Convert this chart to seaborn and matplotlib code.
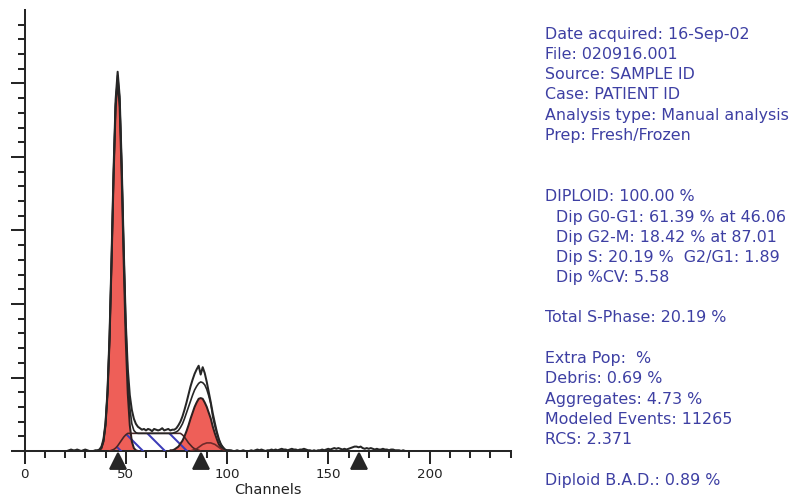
import numpy as np
import pandas as pd
import matplotlib
matplotlib.use("Agg")
import matplotlib.pyplot as plt
import matplotlib.transforms as mtransforms
import seaborn as sns

# ---- DNA histogram (counts per channel, first channel = 20) ----
hist_start = 20
hist_counts = [
    0, 0, 1, 2, 1, 1, 2, 1, 0, 1, 2, 1, 0, 0, 0, 1, 1,                 # 20-36
    2, 6, 16, 38, 82, 158, 265, 384, 478, 516, 482, 390, 276, 176,       # 37-50
    112, 76, 56, 44, 37, 33,                                             # 51-56
    31, 29, 30, 28, 30, 29, 27, 30, 29, 28, 29, 31, 28, 29, 30, 28, 29,  # 57-73
    29, 31, 35, 40, 47, 56, 66, 77, 88, 97, 105, 111, 116, 104, 114,     # 74-88
    106, 94, 80, 66, 51, 38, 26, 16, 9, 5, 2, 1,                         # 89-100
    1, 1, 0, 0, 1, 0, 0, 1, 0, 0,
    0, 1, 0, 1, 2, 1, 2, 1, 0, 1,
    1, 2, 1, 2, 1, 2, 3, 2, 2, 1,
    2, 3, 2, 2, 1, 2, 2, 3, 2, 1,
    1, 0, 1, 0, 1, 1, 2, 1, 2, 3,
    2, 3, 4, 3, 4, 3, 2, 3, 2, 3,
    4, 5, 6, 6, 5, 6, 4, 3, 4, 3,
    4, 3, 2, 3, 2, 2, 3, 2, 2, 1,
    2, 2, 1, 1, 1, 0, 1, 0, 0, 0,                                        # 181-190
]

# ---- model composite (first channel = 36) ----
fit_start = 36
fit_counts = [
    0, 1, 4, 13, 35, 79, 152, 259, 376, 472, 511, 479, 389, 276, 173,   # 36-50
    102, 59, 37, 28, 25, 24,                                            # 51-56
    24, 24, 24, 24, 24, 24, 24, 24, 24, 24, 24, 24, 24, 24, 24, 24, 24, # 57-73
    25, 26, 28, 32, 37, 44, 52, 60, 68, 76, 83, 88, 92, 94, 93,         # 74-88
    90, 84, 75, 64, 46, 34, 24, 15, 9, 5, 2, 1, 1, 0,                   # 89-102
]

# ---- diploid G0-G1 component (first channel = 36) ----
g1_start = 36
g1_counts = [0, 1, 4, 13, 35, 78, 151, 257, 374, 468, 504,
             468, 374, 257, 151, 78, 35, 13, 4, 1, 0]

# ---- diploid G2-M component (first channel = 72) ----
g2_start = 72
g2_counts = [1, 1, 2, 4, 6, 10, 14, 20, 27, 35, 44, 52, 60, 66, 71, 72,
             71, 66, 60, 52, 44, 33, 24, 16, 9, 5, 2, 1, 0]

# ---- diploid S-phase component (first channel = 42) ----
s_start = 42
s_counts = [0, 1, 2, 4, 7, 11, 15, 19, 22, 24,
            24, 24, 24, 24, 24, 24, 24, 24, 24, 24, 24, 24, 24,
            24, 24, 24, 24, 24, 24, 24, 24, 24, 24, 24, 24, 24,
            22, 19, 15, 11, 8, 5, 3, 2, 1, 0]

# ---- aggregates component (first channel = 82) ----
agg_start = 82
agg_counts = [0, 1, 2, 3, 5, 7, 9, 10, 11, 11, 11, 10, 9, 7, 5, 3, 2, 1, 0]

# ---- peak markers ----
marker_channels = [46.06, 87.01, 165.0]

report_lines = [
    ("Date acquired: 16-Sep-02", 0, 33),
    ("File: 020916.001", 0, 53),
    ("Source: SAMPLE ID", 0, 73),
    ("Case: PATIENT ID", 0, 93),
    ("Analysis type: Manual analysis", 0, 114),
    ("Prep: Fresh/Frozen", 0, 134),
    ("DIPLOID: 100.00 %", 0, 195),
    ("Dip G0-G1: 61.39 % at 46.06", 1, 216),
    ("Dip G2-M: 18.42 % at 87.01", 1, 236),
    ("Dip S: 20.19 %  G2/G1: 1.89", 1, 256),
    ("Dip %CV: 5.58", 1, 276),
    ("Total S-Phase: 20.19 %", 0, 316),
    ("Extra Pop:  %", 0, 357),
    ("Debris: 0.69 %", 0, 377),
    ("Aggregates: 4.73 %", 0, 398),
    ("Modeled Events: 11265", 0, 418),
    ("RCS: 2.371", 0, 438),
    ("Diploid B.A.D.: 0.89 %", 0, 479),
]


def frame(start, values):
    ch = np.arange(start, start + len(values))
    return pd.DataFrame({"channel": ch, "count": np.asarray(values, float)})


hist_df = frame(hist_start, hist_counts)
fit_df = frame(fit_start, fit_counts)
g1_df = frame(g1_start, g1_counts)
g2_df = frame(g2_start, g2_counts)
s_df = frame(s_start, s_counts)
agg_df = frame(agg_start, agg_counts)

sns.set_theme(style="ticks")
plt.rcParams["font.family"] = ["DejaVu Sans"]
plt.rcParams["hatch.linewidth"] = 1.1

W, H, DPI = 802, 499, 132
fig = plt.figure(figsize=(W / DPI, H / DPI), dpi=DPI)
fig.patch.set_facecolor("white")
ax = fig.add_axes([24.5 / W, 1 - 451 / H, 486 / W, 441 / H])
ax.set_facecolor("white")

RED = "#ee5f58"
INK = "#262626"
HATCH = "#3c3cb8"

# red G1 / G2 fills
for df in (g1_df, g2_df):
    ax.fill_between(df["channel"], 0, df["count"], facecolor=RED,
                    edgecolor="none", linewidth=0, zorder=2)

# S-phase hatching (over white and over the red fills)
ax.fill_between(s_df["channel"], 0, s_df["count"], facecolor="none",
                edgecolor=HATCH, hatch="\\\\", linewidth=0, zorder=3)

# component outlines
sns.lineplot(data=s_df, x="channel", y="count", ax=ax, color="#4a2626",
             linewidth=0.9, zorder=4)
sns.lineplot(data=g1_df, x="channel", y="count", ax=ax, color="#2e2020",
             linewidth=1.1, zorder=4)
sns.lineplot(data=g2_df, x="channel", y="count", ax=ax, color="#2e2020",
             linewidth=1.1, zorder=4)
sns.lineplot(data=agg_df, x="channel", y="count", ax=ax, color="#6e2a2a",
             linewidth=0.9, zorder=4)

# model composite and measured histogram
sns.lineplot(data=fit_df, x="channel", y="count", ax=ax, color=INK,
             linewidth=0.9, zorder=5)
sns.lineplot(data=hist_df, x="channel", y="count", ax=ax, color=INK,
             linewidth=1.1, zorder=6)

ax.set_xlim(0, 240)
ax.set_ylim(0, 600)

ax.set_xticks([0, 50, 100, 150, 200])
ax.set_xticks(np.arange(0, 241, 10), minor=True)
ax.set_yticks(np.arange(0, 501, 100))
ax.set_yticks(np.arange(0, 600, 20), minor=True)
ax.set_yticklabels([])

for side in ("top", "right"):
    ax.spines[side].set_visible(False)
for side in ("left", "bottom"):
    ax.spines[side].set_color(INK)
    ax.spines[side].set_linewidth(1.1)

ax.tick_params(axis="x", which="major", direction="out", length=7, width=1.1,
               color=INK, labelsize=7.3, labelcolor="#222222", pad=2)
ax.tick_params(axis="x", which="minor", direction="out", length=4, width=1.1,
               color=INK)
ax.tick_params(axis="y", which="major", direction="out", length=7.5, width=1.1,
               color=INK, left=True, labelleft=False)
ax.tick_params(axis="y", which="minor", direction="out", length=3.8, width=1.1,
               color=INK, left=True)

ax.set_xlabel("Channels", fontsize=7.9, color="#222222", labelpad=1.5)
ax.set_ylabel("")

# peak position markers below the axis
marker_tr = mtransforms.offset_copy(ax.transData, fig=fig, y=-10, units="dots")
ax.plot(marker_channels, np.zeros(len(marker_channels)), linestyle="none",
        marker="^", markersize=8.2, color=INK, transform=marker_tr,
        clip_on=False, zorder=7)

# analysis report
TEXT_BLUE = "#3d3fa3"
for text, indent, y in report_lines:
    x = 545 if indent == 0 else 556
    fig.text(x / W, 1 - (y + 6) / H, text, fontsize=8.7, color=TEXT_BLUE,
             ha="left", va="baseline")

fig.savefig("out.png", dpi=DPI, facecolor="white")
